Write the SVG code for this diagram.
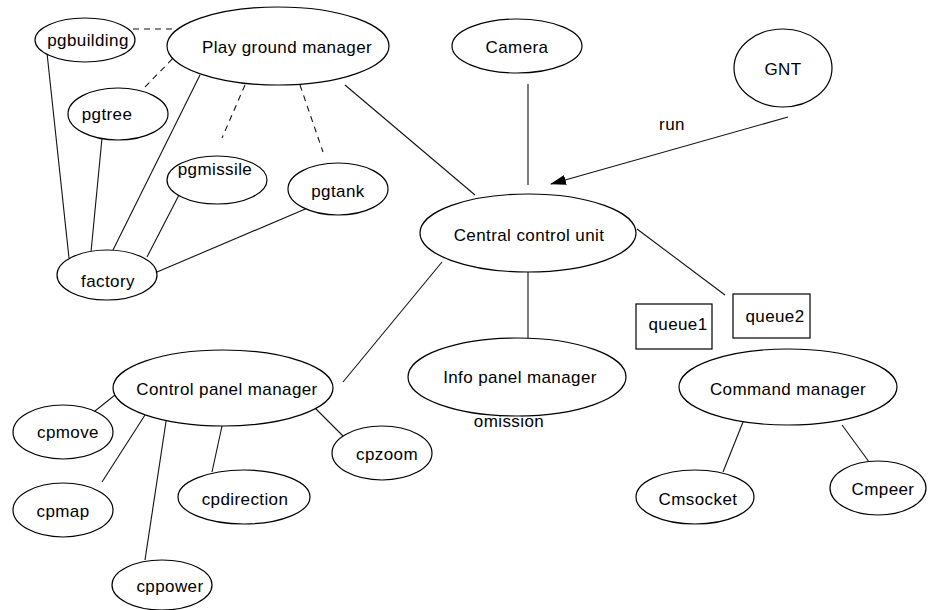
<svg xmlns="http://www.w3.org/2000/svg" width="933" height="610" viewBox="0 0 933 610">
<style>
.n ellipse, .n rect { fill: #fff; stroke: #000; stroke-width: 1.2; }
text { font-family: "Liberation Sans", Arial, sans-serif; font-size: 17px; letter-spacing: 0.4px; fill: #000; text-anchor: middle; }
.c line { stroke: #111; stroke-width: 1.1; }
.c line.d { stroke-dasharray: 6 5; }
</style>
<defs>
<marker id="ah" markerWidth="16" markerHeight="10" refX="15" refY="5" orient="auto" markerUnits="userSpaceOnUse">
<path d="M0,0 L16,5 L0,10 Z" fill="#000"/>
</marker>
</defs>
<rect width="933" height="610" fill="#fff"/>
<g class="c" id="connectors">
<line class="d" x1="133" y1="29" x2="177" y2="29"/>
<line class="d" x1="180" y1="51" x2="145" y2="87"/>
<line class="d" x1="245" y1="85" x2="222" y2="138"/>
<line class="d" x1="300" y1="85" x2="323" y2="152"/>
<line x1="345" y1="85" x2="475" y2="195"/>
<line x1="47" y1="53" x2="69" y2="258"/>
<line x1="102" y1="138" x2="91" y2="252"/>
<line x1="200" y1="75" x2="113" y2="250"/>
<line x1="179" y1="195" x2="147" y2="257"/>
<line x1="310" y1="207" x2="157" y2="272"/>
<line x1="528" y1="84" x2="528" y2="185"/>
<line x1="788" y1="117" x2="551" y2="184" marker-end="url(#ah)"/>
<line x1="637" y1="229" x2="725" y2="295"/>
<line x1="442" y1="262" x2="343" y2="382"/>
<line x1="528" y1="272" x2="528" y2="338"/>
<line x1="90" y1="415" x2="115" y2="395"/>
<line x1="102" y1="482" x2="145" y2="415"/>
<line x1="212" y1="472" x2="222" y2="426"/>
<line x1="145" y1="560" x2="167" y2="415"/>
<line x1="343" y1="436" x2="310" y2="403"/>
<line x1="745" y1="417" x2="723" y2="472"/>
<line x1="842" y1="425" x2="875" y2="470"/>
</g>
<text x="672" y="130">run</text>
<text x="509" y="427">omission</text>
<g class="n" id="pgbuilding"><ellipse cx="85" cy="40" rx="50" ry="22"/><text x="88" y="46">pgbuilding</text></g>
<g class="n" id="playground"><ellipse cx="278" cy="46" rx="111" ry="39"/><text x="287" y="53">Play ground manager</text></g>
<g class="n" id="pgtree"><ellipse cx="118" cy="114" rx="50" ry="26"/><text x="107" y="120">pgtree</text></g>
<g class="n" id="pgmissile"><ellipse cx="217" cy="180" rx="50" ry="24"/><text x="215" y="175">pgmissile</text></g>
<g class="n" id="pgtank"><ellipse cx="338" cy="189" rx="50" ry="26"/><text x="338" y="197">pgtank</text></g>
<g class="n" id="factory"><ellipse cx="107" cy="275" rx="50" ry="25"/><text x="108" y="287">factory</text></g>
<g class="n" id="camera"><ellipse cx="517" cy="46" rx="65" ry="27"/><text x="517" y="53">Camera</text></g>
<g class="n" id="gnt"><ellipse cx="783" cy="68" rx="49" ry="39"/><text x="783" y="75">GNT</text></g>
<g class="n" id="ccu"><ellipse cx="528" cy="233" rx="108" ry="39"/><text x="529" y="241">Central control unit</text></g>
<g class="n" id="cpm"><ellipse cx="223" cy="388" rx="110" ry="38"/><text x="227" y="395">Control panel manager</text></g>
<g class="n" id="cpmove"><ellipse cx="63" cy="432" rx="50" ry="27"/><text x="68" y="438">cpmove</text></g>
<g class="n" id="cpmap"><ellipse cx="63" cy="510" rx="50" ry="27"/><text x="63" y="517">cpmap</text></g>
<g class="n" id="cpdirection"><ellipse cx="244" cy="497" rx="66" ry="27"/><text x="245" y="505">cpdirection</text></g>
<g class="n" id="cppower"><ellipse cx="162" cy="585" rx="50" ry="25"/><text x="170" y="592">cppower</text></g>
<g class="n" id="cpzoom"><ellipse cx="382" cy="453" rx="50" ry="27"/><text x="387" y="460">cpzoom</text></g>
<g class="n" id="infopanel"><ellipse cx="517" cy="377" rx="109" ry="39"/><text x="520" y="383">Info panel manager</text></g>
<g class="n" id="queue1"><rect x="636" y="304" width="76" height="45"/><text x="678" y="330">queue1</text></g>
<g class="n" id="queue2"><rect x="733" y="294" width="77" height="44"/><text x="775" y="322">queue2</text></g>
<g class="n" id="cmdmgr"><ellipse cx="788" cy="387" rx="109" ry="38"/><text x="788" y="395">Command manager</text></g>
<g class="n" id="cmsocket"><ellipse cx="695" cy="497" rx="59" ry="27"/><text x="698" y="505">Cmsocket</text></g>
<g class="n" id="cmpeer"><ellipse cx="878" cy="488" rx="48" ry="27"/><text x="883" y="495">Cmpeer</text></g>
</svg>
